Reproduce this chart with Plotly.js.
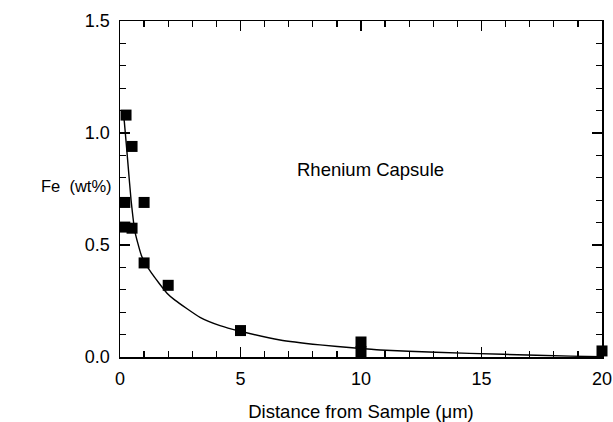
<!DOCTYPE html>
<html>
<head>
<meta charset="utf-8">
<script src="https://cdn.plot.ly/plotly-3.0.1.min.js"></script>
<style>html,body{margin:0;padding:0;background:#fff;}</style>
</head>
<body>
<div id="chart" style="width:613px;height:422px;"></div>
<script>
// Measured data points
const pointX = [0.25, 0.5, 0.2, 1.0, 0.2, 0.5, 1.0, 2.0, 5.0, 10.0, 10.0, 20.0];
const pointY = [1.08, 0.94, 0.69, 0.69, 0.58, 0.575, 0.42, 0.32, 0.118, 0.067, 0.024, 0.027];

// Fitted curve
const curveX = [0.15, 0.18, 0.34, 0.46, 0.62, 0.9, 1.31, 1.95, 2.28, 3.32, 4.15, 5.0, 6.64, 8.3, 9.75, 10.8, 13.1, 15.9, 18.7, 20];
const curveY = [1.075, 1.05, 0.85, 0.70, 0.56, 0.45, 0.374, 0.285, 0.254, 0.177, 0.14, 0.115, 0.076, 0.054, 0.040, 0.031, 0.021, 0.012, 0.004, 0.001];

const xTicks = [0, 5, 10, 15, 20];
const xTickText = ["0", "5", "10", "15", "20"];
const yTicks = [0, 0.5, 1.0, 1.5];
const yTickText = ["0.0", "0.5", "1.0", "1.5"];

const FONT = "Liberation Sans, Arial, Helvetica, sans-serif";

const traces = [
  {x: curveX, y: curveY, mode: "lines", type: "scatter", line: {color: "#000", width: 1.4, shape: "spline", smoothing: 0.5}, hoverinfo: "skip", cliponaxis: false},
  {x: pointX, y: pointY, mode: "markers", type: "scatter", marker: {symbol: "square", size: 11, color: "#000"}, cliponaxis: false}
];

const axisCommon = {
  showgrid: false, zeroline: false, showline: true, linecolor: "#000", linewidth: 1.5,
  ticks: "inside", ticklen: 10, tickwidth: 1.5, tickcolor: "#000", mirror: "allticks",
  tickfont: {family: FONT, size: 18, color: "#000"}, ticklabelstandoff: 5
};

const layout = {
  width: 613, height: 422,
  margin: {l: 120, r: 11, t: 21, b: 65},
  paper_bgcolor: "#fff", plot_bgcolor: "#fff",
  showlegend: false,
  xaxis: Object.assign({}, axisCommon, {
    range: [0, 20], tickmode: "array", tickvals: xTicks, ticktext: xTickText,
    minor: {dtick: 1, ticks: "inside", ticklen: 6, tickwidth: 1.3, tickcolor: "#000"},
    title: {text: "Distance from Sample (μm)", font: {family: FONT, size: 18.5, color: "#000"}, standoff: 18}
  }),
  yaxis: Object.assign({}, axisCommon, {
    range: [0, 1.5], tickmode: "array", tickvals: yTicks, ticktext: yTickText,
    minor: {dtick: 0.1, ticks: "inside", ticklen: 6, tickwidth: 1.3, tickcolor: "#000"}
  }),
  annotations: [
    {text: "Fe  (wt%)", xref: "paper", yref: "paper", x: -0.168, y: 0.508, xanchor: "left", yanchor: "middle", showarrow: false, font: {family: FONT, size: 16.5, color: "#000"}},
    {text: "Rhenium Capsule", xref: "x", yref: "y", x: 10.4, y: 0.835, xanchor: "center", yanchor: "middle", showarrow: false, font: {family: FONT, size: 18.5, color: "#000"}}
  ]
};

Plotly.newPlot("chart", traces, layout, {displayModeBar: false, staticPlot: true});
</script>
</body>
</html>
